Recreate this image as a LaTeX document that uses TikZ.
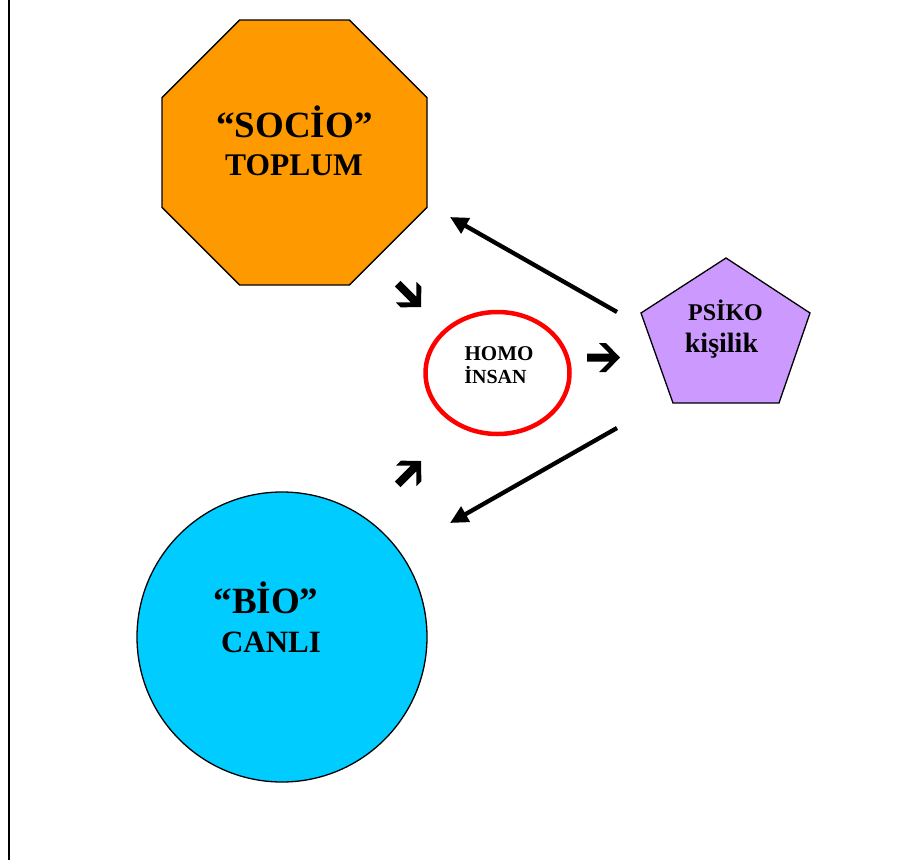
\documentclass[tikz,border=0pt]{standalone}
\usepackage{fontspec}
\setmainfont{Liberation Serif}
\usetikzlibrary{arrows.meta}
\definecolor{socio}{HTML}{FF9900}
\definecolor{bio}{HTML}{00CCFF}
\definecolor{psiko}{HTML}{CC99FF}
\tikzset{
  shapeline/.style={draw=black, line width=1.3pt},
  lbl/.style={anchor=base, inner sep=0pt, font=\bfseries},
  bigarrow/.style={line width=4.3pt, -{Triangle[length=18pt,width=17pt]}},
  blockarrow/.pic={\fill[black] (-33,-4) -- (-10.5,-4) -- (-21,-14.5) -- (-14,-14.5) -- (0,0) -- (-14,14.5) -- (-21,14.5) -- (-10.5,4) -- (-33,4) -- cycle;}
}
\begin{document}
\begin{tikzpicture}[x=1pt,y=-1pt]
\useasboundingbox (0,0) rectangle (900,860);
\fill[white] (0,0) rectangle (900,860);
\draw[line width=2pt] (9,0) -- (9,860);
% SOCIO octagon
\filldraw[shapeline, fill=socio] (239.6,20) -- (349.4,20) -- (427,97.6) -- (427,207.4) -- (349.4,285) -- (239.6,285) -- (162,207.4) -- (162,97.6) -- cycle;
\node[lbl, font=\bfseries\fontsize{37}{37}\selectfont] (socio) at (294.5,137) {“SOCİO”};
\node[lbl, font=\bfseries\fontsize{31.5}{31.5}\selectfont] (toplum) at (294,175) {TOPLUM};
% BIO circle
\node[shapeline, fill=bio, circle, minimum size=290pt, inner sep=0pt] (bio) at (282,637) {};
\node[lbl, font=\bfseries\fontsize{37}{37}\selectfont] (biotxt) at (266,613) {“BİO”};
\node[lbl, font=\bfseries\fontsize{31}{31}\selectfont] (canli) at (271,652) {CANLI};
% HOMO ellipse
\draw[red, line width=4.5pt, fill=white] (497.5,373) ellipse [x radius=72, y radius=61];
\node[lbl, font=\bfseries\fontsize{21}{21}\selectfont] (homo) at (499,360) {HOMO};
\node[lbl, font=\bfseries\fontsize{20}{20}\selectfont] (insan) at (495.5,383.5) {İNSAN};
% PSIKO pentagon
\filldraw[shapeline, fill=psiko] (726,258) -- (810,313) -- (779,403) -- (673,403) -- (641,313) -- cycle;
\node[lbl, font=\bfseries\fontsize{24}{24}\selectfont] (psikotxt) at (725.5,320) {PSİKO};
\node[lbl, font=\bfseries\fontsize{28}{28}\selectfont] (kisilik) at (721.5,352) {kişilik};
% connectors
\coordinate (a1s) at (617,312);
\coordinate (a1e) at (450,217);
\coordinate (a2s) at (617,428);
\coordinate (a2e) at (450,523);
\draw[bigarrow] (a1s) -- (a1e);
\draw[bigarrow] (a2s) -- (a2e);
% block arrows
\pic[rotate=-45] at (421,307) {blockarrow};
\pic[rotate=45] at (421,461) {blockarrow};
\pic at (620,357.5) {blockarrow};
\end{tikzpicture}
\end{document}
